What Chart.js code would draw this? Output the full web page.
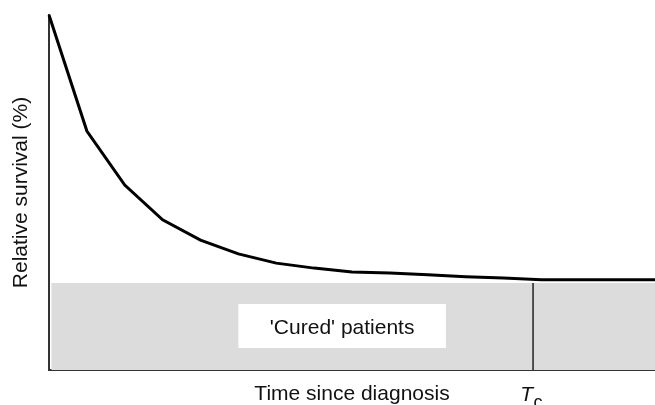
<!DOCTYPE html>
<html>
<head>
<meta charset="UTF-8">
<title>Relative survival</title>
<script src="https://cdn.jsdelivr.net/npm/chart.js@4.4.1/dist/chart.umd.min.js"></script>
<style>
  body { margin: 0; background: #fff; }
  #wrap { width: 655px; height: 405px; }
</style>
</head>
<body>
<div id="wrap"><canvas id="myChart"></canvas></div>

<script>
  // time since diagnosis (arbitrary steps) and relative survival (%)
  const timeSteps = [0, 1, 2, 3, 4, 5, 6, 7, 8, 9, 10, 11, 12, 13, 14, 15, 16];
  const survival = [100, 67.3, 52.1, 42.3, 36.6, 32.7, 30.1, 28.7, 27.6, 27.3, 26.8, 26.3, 25.9, 25.4, 25.4, 25.4, 25.4];

  // cured fraction level and time to cure
  const curedLevel = 24.5;
  const curedFrom = 0.06;
  const cureTime = 12.78;

  // label box inside the cured area (data units)
  const labelBoxX = [5.0, 10.48];
  const labelBoxY = [6.2, 18.6];

  const fontName = "'Liberation Sans', Arial, Helvetica, sans-serif";

  let curvePoints = [];
  for (let i = 0; i < timeSteps.length; i++) {
    curvePoints[i] = {x: timeSteps[i], y: survival[i]};
  }

  const annotations = {
    id: 'annotations',
    afterDatasetsDraw(chart) {
      const ctx = chart.ctx;
      const xs = chart.scales.x;
      const ys = chart.scales.y;
      ctx.save();
      // white label box
      const x1 = xs.getPixelForValue(labelBoxX[0]);
      const x2 = xs.getPixelForValue(labelBoxX[1]);
      const y1 = ys.getPixelForValue(labelBoxY[1]);
      const y2 = ys.getPixelForValue(labelBoxY[0]);
      ctx.fillStyle = '#ffffff';
      ctx.fillRect(x1, y1, x2 - x1, y2 - y1);
      ctx.fillStyle = '#111';
      ctx.font = '21px ' + fontName;
      ctx.textAlign = 'center';
      ctx.textBaseline = 'alphabetic';
      ctx.fillText("'Cured' patients", (x1 + x2) / 2, (y1 + y2) / 2 + 8);

      // T_c label under the cure time
      const tx = xs.getPixelForValue(cureTime);
      ctx.textAlign = 'right';
      ctx.font = 'italic 21px ' + fontName;
      ctx.fillText('T', tx, 401);
      ctx.textAlign = 'left';
      ctx.font = '18px ' + fontName;
      ctx.fillText('c', tx + 0.5, 408);
      ctx.restore();
    }
  };

  new Chart('myChart', {
    type: 'line',
    data: {
      datasets: [
        {
          // survival curve
          data: curvePoints,
          borderColor: '#000',
          borderWidth: 3,
          pointRadius: 0,
          tension: 0,
          fill: false,
          clip: false,
          order: 1
        },
        {
          // cured patients area
          data: [{x: curedFrom, y: curedLevel}, {x: timeSteps[timeSteps.length - 1], y: curedLevel}],
          borderWidth: 0,
          borderColor: 'rgba(0,0,0,0)',
          backgroundColor: '#dcdcdc',
          pointRadius: 0,
          fill: 'origin',
          order: 3
        },
        {
          // cure time marker
          data: [{x: cureTime, y: 0}, {x: cureTime, y: curedLevel}],
          borderColor: '#222',
          borderWidth: 1.5,
          pointRadius: 0,
          fill: false,
          order: 2
        }
      ]
    },
    options: {
      responsive: true,
      maintainAspectRatio: false,
      animation: false,
      layout: {padding: {top: 15, right: 0, left: 0, bottom: 0}},
      plugins: {
        legend: {display: false},
        tooltip: {enabled: false}
      },
      scales: {
        x: {
          type: 'linear',
          min: 0,
          max: 16,
          grid: {display: false, drawTicks: false},
          ticks: {display: false},
          border: {display: true, color: '#333', width: 2},
          title: {
            display: true,
            text: 'Time since diagnosis',
            color: '#111',
            font: {family: fontName, size: 21, lineHeight: 1},
            padding: {top: 0, bottom: 0}
          },
          afterFit(scale) { scale.height = 35; }
        },
        y: {
          min: 0,
          max: 100,
          grid: {display: false, drawTicks: false},
          ticks: {display: false},
          border: {display: true, color: '#333', width: 2},
          title: {
            display: true,
            text: 'Relative survival (%)',
            color: '#111',
            font: {family: fontName, size: 21, lineHeight: 1},
            padding: {top: 11, bottom: 0}
          },
          afterFit(scale) { scale.width = 49; }
        }
      }
    },
    plugins: [annotations]
  });
</script>
</body>
</html>
